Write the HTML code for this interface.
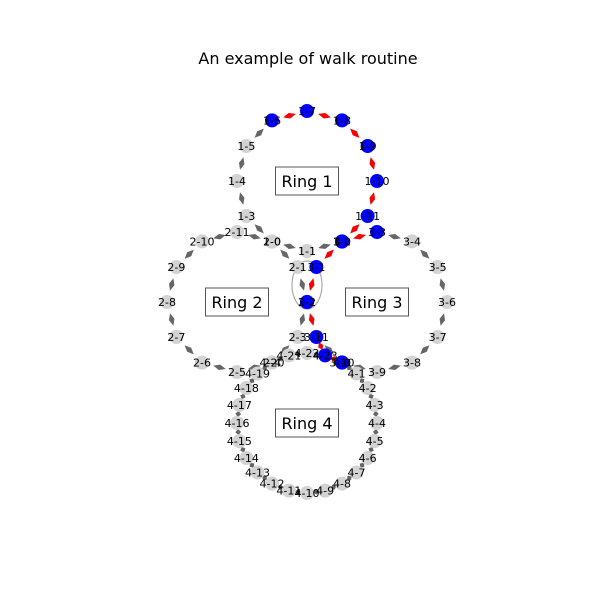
<!DOCTYPE html>
<html><head><meta charset="utf-8"><style>
body{margin:0;background:#fff}
svg{display:block;font-family:"DejaVu Sans","Liberation Sans",sans-serif}
</style></head><body>
<svg id="chart" width="600" height="600" viewBox="0 0 600 600">
<rect width="600" height="600" fill="#fff"/>
<text x="308" y="64" font-size="16" text-anchor="middle">An example of walk routine</text>
<ellipse cx="307" cy="285" rx="15" ry="24" fill="none" stroke="#aaa" stroke-width="1.2"/>
<g id="edges"></g><g id="nodes"></g><g id="labels"></g><g id="boxes"></g>
</svg>
<script>
const ringNames = ["1","2","3","4"];
const ringCenters = [[307,181],[237,302],[377,302],[307,423]];
const ringRadius = 70;
const ring1Angles = [240,270,300,210,180,150,120,90,60,30,0,-30];
const ring2Angles = [60,30,0,-30,-60,-90,-120,-150,180,150,120,90];
const ring3Angles = [120,150,180,90,60,30,0,-30,-60,-90,-120,-150];
const ring4Angles = [60,45,30,15,0,-15,-30,-45,-60,-75,-90,-105,-120,-135,-150,-165,180,165,150,135,120,105,90,75];
const visitedNodes = ["1-6","1-7","1-8","1-9","1-10","1-11","1-2","3-0","3-3","3-1","3-2","2-2","3-11","4-23","4-0","3-10"];
const walkEdges = [["1-6","1-7"],["1-7","1-8"],["1-8","1-9"],["1-9","1-10"],["1-10","1-11"],["1-11","1-2"],["3-3","3-0"],["3-0","3-1"],["3-1","3-2"],["3-2","3-11"],["3-11","4-23"],["4-23","4-0"]];
const ringLabels = ["Ring 1","Ring 2","Ring 3","Ring 4"];

const NS="http://www.w3.org/2000/svg";
const allAngles=[ring1Angles,ring2Angles,ring3Angles,ring4Angles];
const pos={};const nodeList=[];const edgeList=[];
allAngles.forEach((angs,ri)=>{
  const [cx,cy]=ringCenters[ri];
  angs.forEach((a,i)=>{
    const id=ringNames[ri]+"-"+i;
    const r=a*Math.PI/180;
    pos[id]=[cx+ringRadius*Math.cos(r),cy-ringRadius*Math.sin(r)];
    nodeList.push(id);
  });
  const order=angs.map((a,i)=>[((a%360)+360)%360,i]).sort((p,q)=>p[0]-q[0]);
  for(let k=0;k<order.length;k++){
    const a=order[k][1],b=order[(k+1)%order.length][1];
    edgeList.push([ringNames[ri]+"-"+a,ringNames[ri]+"-"+b]);
  }
});
function arrow(e,color,g){
  const p=pos[e[0]],q=pos[e[1]];
  const mx=(p[0]+q[0])/2,my=(p[1]+q[1])/2;
  let dx=q[0]-p[0],dy=q[1]-p[1];const L=Math.hypot(dx,dy);dx/=L;dy/=L;
  const h=Math.min(6.5,(L-14)/2+1),w=2.8;
  if(h<=1)return;
  const pts=[[mx+dx*h,my+dy*h],[mx-dy*w,my+dx*w],[mx-dx*h,my-dy*h],[mx+dy*w,my-dx*w]];
  const pl=document.createElementNS(NS,"polygon");
  pl.setAttribute("points",pts.map(t=>t[0].toFixed(1)+","+t[1].toFixed(1)).join(" "));
  pl.setAttribute("fill",color);
  
  
  g.appendChild(pl);
}
const eg=document.getElementById("edges");
edgeList.forEach(e=>arrow(e,"#666",eg));
walkEdges.forEach(e=>arrow(e,"#f00",eg));
const ng=document.getElementById("nodes"),lg=document.getElementById("labels");
nodeList.forEach(id=>{
  const c=document.createElementNS(NS,"circle");
  c.setAttribute("cx",pos[id][0]);c.setAttribute("cy",pos[id][1]);c.setAttribute("r",7);
  c.setAttribute("fill",visitedNodes.includes(id)?"#0000ff":"#d3d3d3");
  
  
  ng.appendChild(c);
  const t=document.createElementNS(NS,"text");
  t.setAttribute("x",pos[id][0]);t.setAttribute("y",pos[id][1]+4);
  t.setAttribute("font-size","11");t.setAttribute("text-anchor","middle");
  t.textContent=id;
  
  
  lg.appendChild(t);
});
const bg=document.getElementById("boxes");
ringLabels.forEach((s,i)=>{
  const [cx,cy]=ringCenters[i];
  const r=document.createElementNS(NS,"rect");
  r.setAttribute("x",cx-31.5);r.setAttribute("y",cy-14);r.setAttribute("width",63);r.setAttribute("height",28);
  r.setAttribute("fill","#fff");r.setAttribute("stroke","#555");r.setAttribute("stroke-width","1");
  
  
  bg.appendChild(r);
  const t=document.createElementNS(NS,"text");
  t.setAttribute("x",cx);t.setAttribute("y",cy+6);t.setAttribute("font-size","16");t.setAttribute("text-anchor","middle");
  t.textContent=s;
  
  
  bg.appendChild(t);
});
</script>
</body></html>
